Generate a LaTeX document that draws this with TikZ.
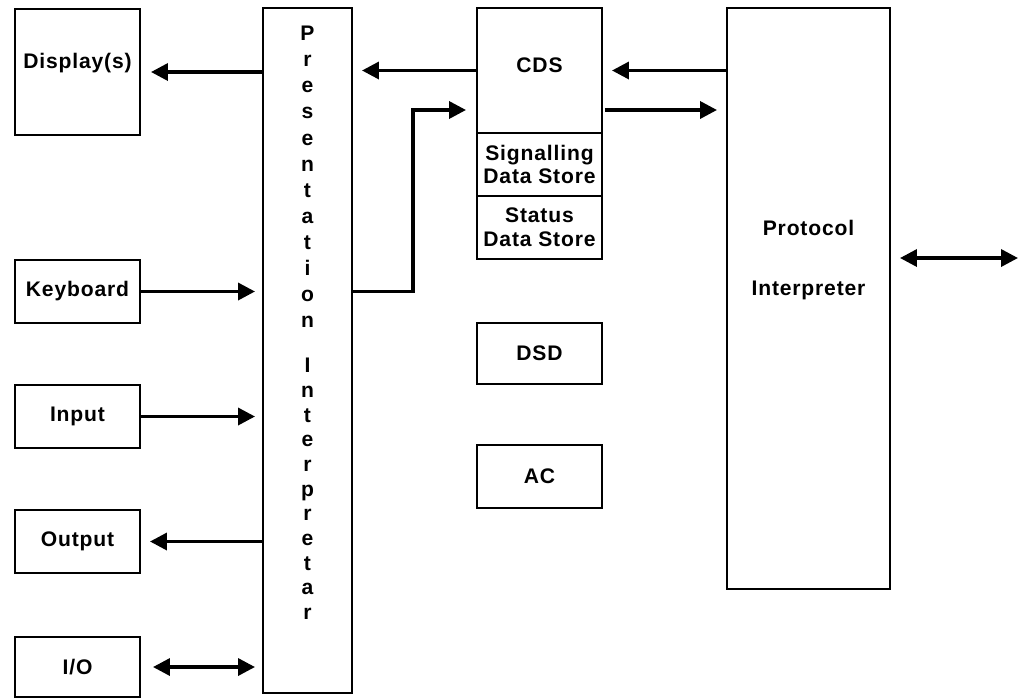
\documentclass[tikz,border=0pt]{standalone}
\usepackage{fontspec}
\setmainfont{Liberation Sans}[LetterSpace=4]
\usetikzlibrary{arrows.meta,positioning}

\begin{document}
\begin{tikzpicture}[x=0.02cm,y=-0.02cm,
		box/.style={draw, line width=1.2pt, inner sep=0pt, outer sep=0pt, minimum width=2.5cm},
		txt/.style={font=\bfseries\fontsize{12}{13.6}\selectfont, align=center, inner sep=0pt},
		letter/.style={font=\bfseries\fontsize{12}{13.6}\selectfont, inner sep=0pt, anchor=mid},
		arr/.style={line width=2pt, -{Triangle[length=0.34cm,width=0.34cm]}},
		dbl/.style={line width=2pt, {Triangle[length=0.34cm,width=0.34cm]}-{Triangle[length=0.34cm,width=0.34cm]}}]
		\useasboundingbox (0,0) rectangle (1020,698);
		
		% left column
		\node[box, minimum height=2.52cm] (disp) at (77.5,72) {};
		\node[txt] (displbl) at (77.5,63) {Display(s)};
		\node[box, minimum height=1.26cm, txt] (kbd) at (77.5,291.5) {Keyboard};
		\node[box, minimum height=1.26cm, txt] (inp) at (77.5,416.5) {Input};
		\node[box, minimum height=1.26cm, txt] (outp) at (77.5,541.5) {Output};
		\node[box, minimum height=1.2cm, txt] (io) at (77.5,667) {I/O};
		
		% presentation interpreter
		\node[box, minimum width=1.78cm, minimum height=13.7cm] (pres) at (307.5,350.5) {};
		\foreach \c [count=\i] in {P,r,e,s,e,n,t,a,t,i,o,n}
		\node[letter] (pa\i) at (307.5,{36+26.1*(\i-1)}) {\c};
		\foreach \c [count=\i] in {I,n,t,e,r,p,r,e,t,a,r}
		\node[letter] (pb\i) at (307.5,{368+24.7*(\i-1)}) {\c};
		
		% data stores
		\node[box, minimum height=2.5cm] (cds) at (539.5,70.5) {};
		\node[txt] (cdslbl) at (539.5,65) {CDS};
		\node[box, minimum height=1.26cm, txt, anchor=north] (sig) at (cds.south) {Signalling\\Data Store};
		\node[box, minimum height=1.26cm, txt, anchor=north] (stat) at (sig.south) {Status\\Data Store};
		\node[box, minimum height=1.22cm, txt] (dsd) at (539.5,353.5) {DSD};
		\node[box, minimum height=1.26cm, txt] (ac) at (539.5,476.5) {AC};
		
		% protocol interpreter
		\node[box, minimum width=3.26cm, minimum height=11.62cm] (prot) at (808.5,298.5) {};
		\node[txt] (prota) at (808.5,228) {Protocol};
		\node[txt] (protb) at (808.5,290) {Interpreter};
		\coordinate (ext) at (1018,258);
		
		% connectors
		\draw[arr, shorten >=0.22cm] (pres.west |- disp.east) -- (disp.east);
		\draw[arr, shorten >=0.16cm] (kbd.east) -- (kbd.east -| pres.west);
		\draw[arr, shorten >=0.16cm] (inp.east) -- (inp.east -| pres.west);
		\draw[arr, shorten >=0.2cm] (pres.west |- outp.east) -- (outp.east);
		\draw[dbl, shorten <=0.26cm, shorten >=0.16cm] (io.east) -- (io.east -| pres.west);
		\draw[arr, shorten >=0.2cm] (cds.west) -- (cds.west -| pres.east);
		\draw[arr, shorten >=0.22cm] (pres.east |- kbd.east) -- ++(61,0) |- ([yshift=-0.79cm]cds.west);
		\draw[arr, shorten >=0.2cm] (prot.west |- cds.east) -- (cds.east);
		\draw[arr, shorten <=0.06cm, shorten >=0.2cm] ([yshift=-0.79cm]cds.east) -- ([yshift=-0.79cm]cds.east -| prot.west);
		\draw[dbl, shorten <=0.2cm] (prot.east |- ext) -- (ext);
\end{tikzpicture}
\end{document}
